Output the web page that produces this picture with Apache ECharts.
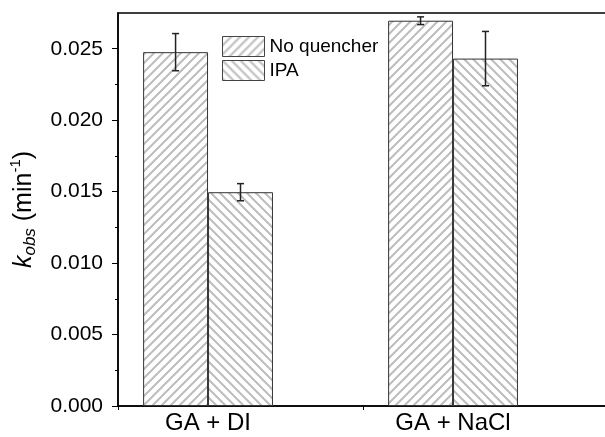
<!DOCTYPE html>
<html>
<head>
<meta charset="utf-8">
<script src="https://cdn.jsdelivr.net/npm/echarts@6/dist/echarts.min.js"></script>
<style>
html,body{margin:0;padding:0;background:#fff;}
#chart{width:605px;height:437px;}
</style>
</head>
<body>
<div id="chart"></div>
<script>
const categories = ['GA + DI', 'GA + NaCl'];
const seriesNames = ['No quencher', 'IPA'];
const noQuencher = [0.02476, 0.02696];
const noQuencherErr = [0.0013, 0.00027];
const ipa = [0.01496, 0.02431];
const ipaErr = [0.0006, 0.0019];
const yTicks = [0, 0.005, 0.010, 0.015, 0.020, 0.025];
const yMinorTicks = [0.0025, 0.0075, 0.0125, 0.0175, 0.0225];

const FONT = 'Arial, "Liberation Sans", sans-serif';
const BAR_FRAC = 0.265;

function makeHatch(forward) {
  const s = 9;
  const c = document.createElement('canvas');
  c.width = s; c.height = s;
  const ctx = c.getContext('2d');
  ctx.fillStyle = '#ffffff';
  ctx.fillRect(0, 0, s, s);
  ctx.strokeStyle = '#bdbdbd';
  ctx.lineWidth = 2;
  ctx.beginPath();
  if (forward) {
    ctx.moveTo(-1, s + 1); ctx.lineTo(s + 1, -1);
    ctx.moveTo(-1, 1); ctx.lineTo(1, -1);
    ctx.moveTo(s - 1, s + 1); ctx.lineTo(s + 1, s - 1);
  } else {
    ctx.moveTo(-1, -1); ctx.lineTo(s + 1, s + 1);
    ctx.moveTo(s - 1, -1); ctx.lineTo(s + 1, 1);
    ctx.moveTo(-1, s - 1); ctx.lineTo(1, s + 1);
  }
  ctx.stroke();
  return { image: c, repeat: 'repeat' };
}
const hatchNQ = makeHatch(true);
const hatchIPA = makeHatch(false);

function errSeries(vals, errs, offsetFrac) {
  return {
    type: 'custom',
    z: 10,
    silent: true,
    data: categories.map((c, i) => [i, vals[i], errs[i]]),
    renderItem: function (params, api) {
      const i = api.value(0), v = api.value(1), e = api.value(2);
      const top = api.coord([i, v + e]);
      const bot = api.coord([i, v - e]);
      const bandW = api.size([1, 0])[0];
      const x = top[0] + offsetFrac * bandW;
      const cap = 3.5;
      const st = { stroke: '#222', lineWidth: 1.5 };
      return {
        type: 'group',
        children: [
          { type: 'line', shape: { x1: x, y1: top[1], x2: x, y2: bot[1] }, style: st },
          { type: 'line', shape: { x1: x - cap, y1: top[1], x2: x + cap, y2: top[1] }, style: st },
          { type: 'line', shape: { x1: x - cap, y1: bot[1], x2: x + cap, y2: bot[1] }, style: st }
        ]
      };
    }
  };
}

const chart = echarts.init(document.getElementById('chart'), null, { renderer: 'canvas' });
chart.setOption({
  animation: false,
  backgroundColor: '#fff',
  textStyle: { fontFamily: FONT, color: '#000' },
  grid: { left: 118, top: 13, width: 490, bottom: 31, outerBoundsMode: 'none', containLabel: false, show: true, borderColor: '#000', borderWidth: 1.5, backgroundColor: 'transparent' },
  legend: {
    left: 222, top: 36, orient: 'vertical', padding: 0,
    itemWidth: 42, itemHeight: 20, itemGap: 3,
    textStyle: { fontFamily: FONT, fontSize: 19, color: '#000', padding: [0, 0, 0, 0] },
    data: [
      { name: seriesNames[0], icon: 'rect', itemStyle: { color: hatchNQ, borderColor: '#444', borderWidth: 1 } },
      { name: seriesNames[1], icon: 'rect', itemStyle: { color: hatchIPA, borderColor: '#444', borderWidth: 1 } }
    ]
  },
  xAxis: {
    type: 'category',
    data: categories,
    boundaryGap: true,
    axisLine: { lineStyle: { color: '#000', width: 1.5 } },
    axisTick: { show: true, length: 4, lineStyle: { color: '#000', width: 1 } },
    axisLabel: { fontFamily: FONT, fontSize: 24, color: '#000', margin: 5, padding: [0, 65, 0, 0] },
    splitLine: { show: false }
  },
  yAxis: [{
    type: 'value',
    min: 0, max: 0.0275, interval: 0.005,
    name: '{k|k}{sub|obs}{n| (min}{sup|-1}{n|)}',
    nameLocation: 'middle',
    nameGap: 78,
    nameTextStyle: {
      fontFamily: FONT, color: '#000',
      rich: {
        k: { fontFamily: FONT, fontStyle: 'italic', fontSize: 25, lineHeight: 28 },
        sub: { fontFamily: FONT, fontStyle: 'italic', fontSize: 17, lineHeight: 17, padding: [12, 0, 0, 0] },
        n: { fontFamily: FONT, fontSize: 25, lineHeight: 28 },
        sup: { fontFamily: FONT, fontSize: 15, lineHeight: 15, padding: [0, 0, 16, 0] }
      }
    },
    axisLine: { show: true, lineStyle: { color: '#000', width: 1.5 } },
    axisTick: { show: true, length: 6, customValues: yTicks, lineStyle: { color: '#000', width: 1 } },
    axisLabel: { fontFamily: FONT, fontSize: 21, color: '#000', margin: 15, customValues: yTicks, formatter: v => v.toFixed(3) },
    splitLine: { show: false }
  }, {
    type: 'value',
    position: 'left',
    min: 0, max: 0.0275, interval: 0.0025,
    axisLine: { show: false },
    axisTick: { show: true, length: 3, customValues: yMinorTicks, lineStyle: { color: '#000', width: 1 } },
    axisLabel: { show: false },
    splitLine: { show: false }
  }],
  series: [
    {
      name: seriesNames[0], type: 'bar', data: noQuencher,
      barWidth: (BAR_FRAC * 100) + '%', barGap: '0%',
      itemStyle: { color: hatchNQ, borderColor: '#333', borderWidth: 1 }
    },
    {
      name: seriesNames[1], type: 'bar', data: ipa,
      barWidth: (BAR_FRAC * 100) + '%', barGap: '0%',
      itemStyle: { color: hatchIPA, borderColor: '#333', borderWidth: 1 }
    },
    {
      name: 'spacer', type: 'bar', data: categories.map(() => 0),
      barWidth: (BAR_FRAC * 100) + '%', barGap: '0%', silent: true,
      itemStyle: { color: 'transparent', borderWidth: 0 }
    },
    errSeries(noQuencher, noQuencherErr, -BAR_FRAC),
    errSeries(ipa, ipaErr, 0)
  ]
});
</script>
</body>
</html>
